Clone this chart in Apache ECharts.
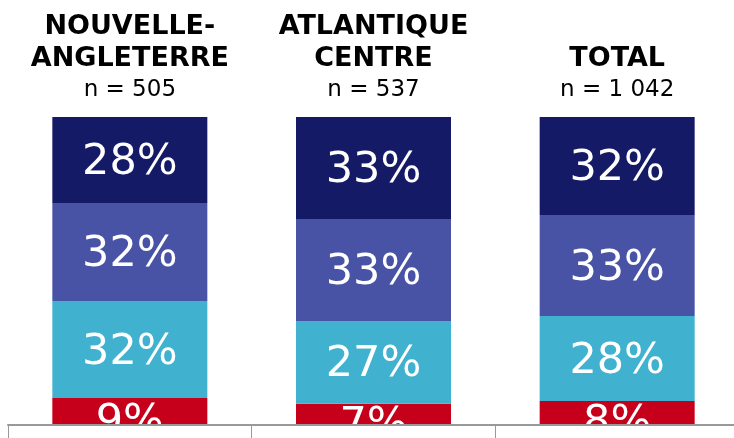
<!DOCTYPE html>
<html><head><meta charset="utf-8">
<script src="https://cdn.jsdelivr.net/npm/echarts@6/dist/echarts.min.js"></script>
<style>html,body{margin:0;padding:0;background:#fff}#c{width:734px;height:438px}</style>
</head><body><div id="c"></div>
<script>
const categories = ['NOUVELLE-\nANGLETERRE', 'ATLANTIQUE\nCENTRE', 'TOTAL'];
const sampleSizes = ['n = 505', 'n = 537', 'n = 1 042'];
const seriesRed = [8.8, 6.9, 7.8];
const seriesLight = [31.5, 26.9, 27.6];
const seriesMid = [31.8, 33.1, 32.8];
const seriesDark = [27.9, 33.1, 31.8];

const colors = ['#C6001A', '#40B1CE', '#4953A6', '#141A66'];
const seriesData = [seriesRed, seriesLight, seriesMid, seriesDark];
const labelOffsets = [[0, 11], [0, 3], [0, 3], [0, 3]];
const font = 'DejaVu Sans';

const chart = echarts.init(document.getElementById('c'), null, {renderer: 'canvas'});
chart.setOption({
  animation: false,
  backgroundColor: '#fff',
  grid: {left: 8, width: 731, top: 117, bottom: 13, containLabel: false, outerBoundsMode: 'none'},
  xAxis: [{
    type: 'category', data: categories, position: 'bottom', z: 10,
    axisLine: {show: true, lineStyle: {color: '#999', width: 2}},
    axisTick: {show: true, length: 14, lineStyle: {color: '#999', width: 1}},
    axisLabel: {show: false}
  }, {
    type: 'category', data: categories, position: 'top',
    axisLine: {show: false}, axisTick: {show: false},
    axisLabel: {
      margin: 11,
      formatter: function (v, i) {
        return '{t|' + v + '}\n{n|' + sampleSizes[i] + '}';
      },
      rich: {
        t: {fontFamily: font, fontWeight: 'bold', fontSize: 27, lineHeight: 32, color: '#000'},
        n: {fontFamily: font, fontSize: 23, lineHeight: 31, color: '#000'}
      }
    }
  }],
  yAxis: {type: 'value', min: 0, max: 100, show: false, splitLine: {show: false}},
  series: seriesData.map((d, k) => ({
    type: 'bar', stack: 's', data: d, barWidth: 155, xAxisIndex: 0,
    itemStyle: {color: colors[k]},
    label: {
      show: true, position: 'inside', color: '#fff', fontFamily: font, fontSize: 43,
      offset: labelOffsets[k],
      formatter: p => Math.round(p.value) + '%'
    }
  }))
});
</script></body></html>
